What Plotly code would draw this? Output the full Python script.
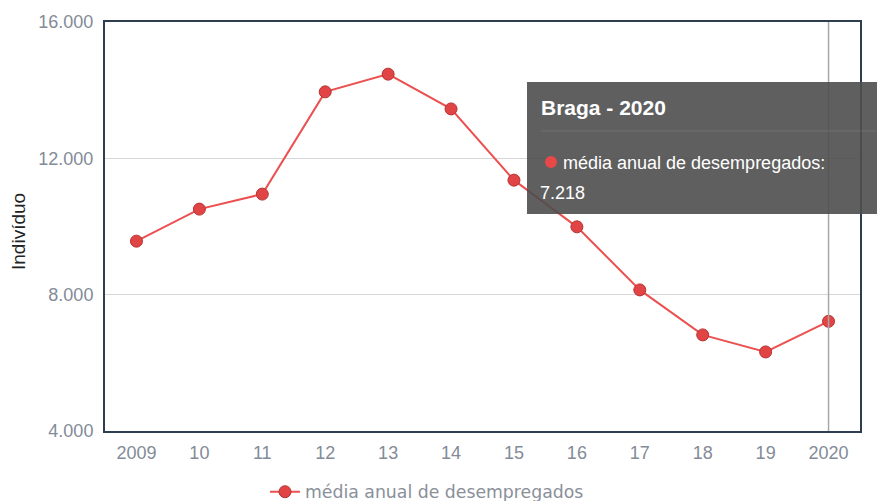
import plotly.graph_objects as go

years = [2009, 2010, 2011, 2012, 2013, 2014, 2015, 2016, 2017, 2018, 2019, 2020]
year_labels = ["2009", "10", "11", "12", "13", "14", "15", "16", "17", "18", "19", "2020"]
media_desempregados = [9570, 10510, 10950, 13950, 14470, 13450, 11360, 9990, 8140, 6820, 6320, 7218]
series_name = "média anual de desempregados"
y_ticks = [4000, 8000, 12000, 16000]

FONT = "Liberation Sans, Arial, sans-serif"
LEGFONT = "DejaVu Sans, Verdana, sans-serif"
TICKCOL = "#838b97"

W, H = 877, 501
L, R, T, B = 105, 17, 22, 70

fig = go.Figure()
fig.add_trace(go.Scatter(
    x=years, y=media_desempregados, name=series_name,
    mode="lines+markers",
    line=dict(color="#ec5050", width=2),
    marker=dict(size=12, color="#e04444", line=dict(color="#b83232", width=1)),
    hoverinfo="skip",
))

pw, ph = W - L - R, H - T - B
def px(xp):
    return (xp - L) / pw
def py(yp):
    return 1 - (yp - T) / ph

fig.update_layout(
    width=W, height=H,
    margin=dict(l=L, r=R, t=T, b=B),
    paper_bgcolor="white", plot_bgcolor="white",
    separators=",.",
    font=dict(family=FONT, color=TICKCOL),
    showlegend=True,
    legend=dict(orientation="h", xref="container", yref="container",
                x=265 / W, xanchor="left", y=1 - 492 / H, yanchor="middle",
                font=dict(size=17.3, color="#8a8f99", family=LEGFONT),
                itemwidth=30, bgcolor="rgba(0,0,0,0)"),
    xaxis=dict(range=[years[0] - 0.5, years[-1] + 0.5], tickvals=years, ticktext=year_labels,
               showgrid=False, zeroline=False, showline=True, mirror=True,
               linecolor="#2c3e50", linewidth=2, ticks="",
               tickfont=dict(size=18, color=TICKCOL, family=FONT), ticklabelstandoff=4),
    yaxis=dict(range=[4000, 16000], tickvals=y_ticks, tickformat=",d",
               showgrid=True, gridcolor="#d6d6d6", gridwidth=1, zeroline=False,
               showline=True, mirror=True, linecolor="#2c3e50", linewidth=2, ticks="",
               tickfont=dict(size=18, color=TICKCOL, family=FONT), ticklabelstandoff=6),
)

# y-axis title
fig.add_annotation(xref="paper", yref="paper", x=px(18), y=py(232), text="Indivíduo",
                   textangle=-90, showarrow=False, xanchor="center", yanchor="middle",
                   font=dict(size=19, color="#222", family=FONT))

# crosshair at 2020
fig.add_shape(type="line", xref="x", yref="paper", x0=years[-1], x1=years[-1], y0=0, y1=1,
              line=dict(color="#a8a8a8", width=1.5), layer="above")

# tooltip box
fig.add_shape(type="rect", xref="paper", yref="paper", x0=px(527), x1=px(895), y0=py(214), y1=py(82),
              fillcolor="rgba(78,78,78,0.9)", line=dict(width=0), layer="above")
fig.add_shape(type="line", xref="paper", yref="paper", x0=px(541), x1=px(895), y0=py(131), y1=py(131),
              line=dict(color="rgba(255,255,255,0.12)", width=1), layer="above")
fig.add_annotation(xref="paper", yref="paper", x=px(539), y=py(107), text="<b>Braga - 2020</b>",
                   showarrow=False, xanchor="left", yanchor="middle",
                   font=dict(size=21, color="white", family=FONT))
fig.add_shape(type="circle", xref="paper", yref="paper", x0=px(545), x1=px(557), y0=py(168), y1=py(156),
              fillcolor="#e84848", line=dict(width=0), layer="above")
fig.add_annotation(xref="paper", yref="paper", x=px(561), y=py(163), text=series_name + ":",
                   showarrow=False, xanchor="left", yanchor="middle",
                   font=dict(size=18, color="white", family=FONT))
fig.add_annotation(xref="paper", yref="paper", x=px(538), y=py(193),
                   text=f"{media_desempregados[-1]:,}".replace(",", "."),
                   showarrow=False, xanchor="left", yanchor="middle",
                   font=dict(size=18, color="white", family=FONT))

fig.write_html("out.html", config={"displayModeBar": False},
               post_script="document.body.style.margin='0';")
